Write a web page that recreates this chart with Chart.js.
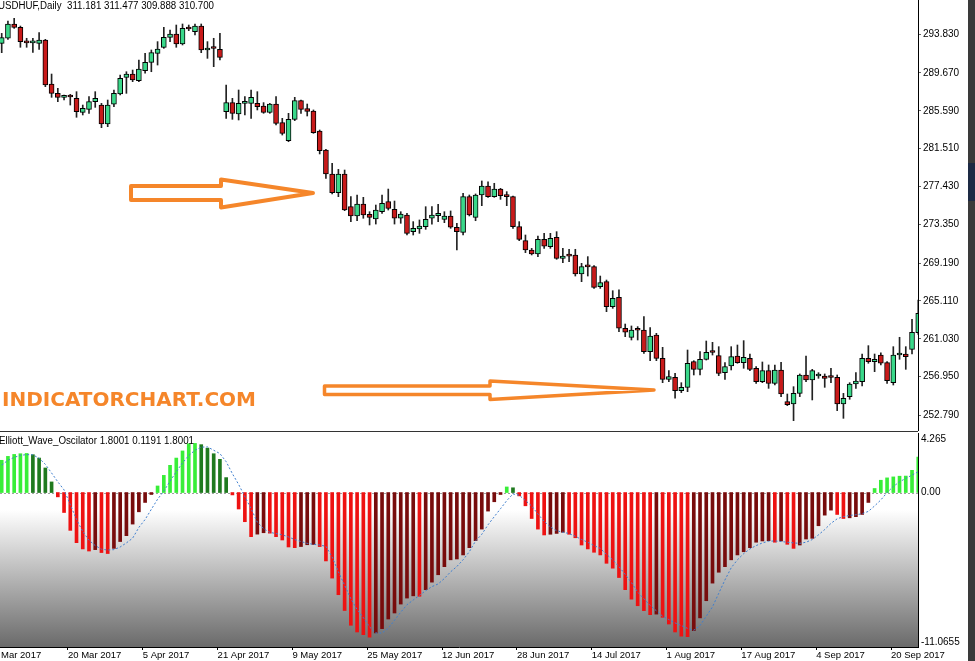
<!DOCTYPE html>
<html>
<head>
<meta charset="utf-8">
<title>USDHUF Daily - Elliott Wave Oscillator</title>
<script src="https://cdn.jsdelivr.net/npm/chart.js@4.4.1/dist/chart.umd.min.js"></script>
<style>
  html, body { margin: 0; padding: 0; background: #fff; }
  #wrap { position: relative; width: 975px; height: 661px; overflow: hidden; background: #fff; }
  #price { position: absolute; left: 0; top: 0; }
  #osc   { position: absolute; left: 0; top: 432px; }
  #sep   { position: absolute; left: 0; top: 431px; width: 918px; height: 1px; background: #333; }
  #edge  { position: absolute; left: 968px; top: 0; width: 7px; height: 661px; background: #3a3a3a; }
  #edge2 { position: absolute; left: 968px; top: 163px; width: 7px; height: 38px; background: #1d2a44; }
</style>
</head>
<body>
<div id="wrap">
  <canvas id="price" width="975" height="431"></canvas>
  <div id="sep"></div>
  <canvas id="osc" width="975" height="229"></canvas>
  <div id="edge"></div>
  <div id="edge2"></div>
</div>
<script>
// ============================================================
// USDHUF Daily + Elliott_Wave_Oscilator (MT4 style)
// ============================================================

// --- price candles (bar index 0..147) ---
const open = [
  292.86,293.40,294.94,294.58,293.04,292.90,292.86,293.22,288.48,287.47,
  287.04,287.11,286.93,285.42,285.75,286.57,286.21,284.17,286.29,287.40,
  289.19,289.55,288.84,289.91,290.81,291.78,292.43,293.50,293.86,292.79,
  294.47,294.11,294.72,292.14,292.32,292.21,285.50,286.47,285.25,286.39,
  286.39,286.39,286.11,285.42,286.32,284.31,282.37,284.67,286.68,285.82,
  285.57,283.41,281.37,278.78,276.77,278.78,275.26,274.26,275.55,274.44,
  273.93,274.72,275.80,274.97,274.01,274.36,272.57,272.86,273.11,274.01,
  274.29,273.90,274.26,273.04,272.50,276.34,274.11,276.52,277.49,276.34,
  277.16,276.45,276.34,273.11,271.60,270.59,270.16,271.74,270.95,271.96,
  269.70,269.95,270.06,268.01,268.80,268.80,266.64,267.18,264.49,265.50,
  262.16,261.19,261.98,261.98,259.64,261.44,258.92,256.66,256.88,255.44,
  255.80,258.57,257.74,258.82,259.57,259.21,257.38,258.10,259.18,258.46,
  258.92,257.85,256.41,257.60,256.23,257.67,254.26,254.01,255.15,257.13,
  256.59,257.02,257.02,256.88,256.88,254.01,254.80,256.16,256.41,258.92,
  258.57,259.28,258.46,256.30,259.28,259.39,259.89,261.69
];
const high = [
  293.93,295.26,295.55,294.72,293.40,293.40,294.01,293.29,289.55,288.01,
  287.29,287.36,287.65,286.21,287.11,287.65,286.39,286.75,287.83,289.45,
  289.80,289.98,291.06,291.78,292.14,293.04,294.58,294.29,294.83,294.94,
  294.83,294.94,294.94,293.04,293.40,293.93,288.37,286.93,287.83,287.11,
  287.83,287.65,286.47,286.39,287.11,284.78,285.32,287.04,286.75,286.32,
  285.68,283.52,281.45,279.93,279.28,279.21,276.34,276.52,276.27,274.72,
  275.44,276.52,277.16,275.87,274.72,274.54,273.65,273.83,275.26,275.26,
  275.51,274.72,274.80,273.47,276.70,276.52,276.63,278.03,277.95,277.78,
  277.24,276.88,276.41,273.65,272.21,270.77,272.10,272.39,272.39,272.57,
  270.77,270.67,270.67,269.16,269.88,268.91,267.79,267.36,266.21,266.29,
  262.62,262.41,262.34,263.41,262.23,261.62,260.11,257.60,257.31,256.30,
  259.82,258.67,259.64,260.79,260.65,260.18,258.46,260.18,260.36,260.83,
  259.39,258.03,258.53,258.21,258.21,258.49,255.08,255.87,257.24,259.18,
  257.74,257.38,257.24,257.85,257.13,255.15,256.30,257.38,259.39,260.29,
  259.39,259.53,258.57,260.18,261.19,260.18,263.13,265.20
];
const low = [
  291.85,293.29,294.47,292.43,292.43,291.89,292.21,288.19,287.04,286.57,
  286.75,286.21,284.89,285.14,285.32,285.96,283.77,283.88,286.04,287.29,
  287.47,288.73,288.73,289.63,289.80,290.52,292.32,293.04,292.43,292.68,
  294.22,293.76,291.85,291.24,290.34,291.06,284.78,284.67,284.60,285.14,
  284.78,285.68,285.32,285.32,284.06,282.98,282.26,284.53,285.32,285.03,
  283.16,280.94,278.31,276.63,276.34,274.83,273.65,273.75,274.01,273.29,
  273.39,274.54,274.90,273.39,273.47,272.21,272.21,272.39,272.82,273.39,
  273.65,273.54,272.93,270.59,272.21,274.26,273.75,275.37,276.27,276.27,
  276.05,275.37,272.93,271.60,270.31,270.06,269.88,270.77,270.77,269.59,
  269.23,269.34,267.79,267.18,267.79,266.46,266.46,263.95,264.31,261.80,
  261.26,260.90,260.90,259.46,258.67,258.67,256.30,256.41,254.62,255.23,
  255.33,257.13,257.13,258.74,259.28,257.06,256.66,257.67,258.39,257.85,
  257.60,256.23,256.30,255.69,256.05,254.80,253.83,252.21,254.80,256.41,
  254.44,256.77,255.80,256.30,253.29,252.46,254.51,255.69,255.94,258.39,
  257.49,258.21,256.23,256.05,258.82,257.74,259.39,261.50
];
const close = [
  293.47,294.94,294.58,293.04,292.90,292.95,293.22,288.37,287.47,287.04,
  287.11,287.08,285.50,285.85,286.57,286.93,284.17,286.21,287.47,289.09,
  289.55,288.91,290.09,290.81,291.85,292.25,293.50,293.86,292.79,294.47,
  294.40,294.72,292.14,292.32,292.30,291.35,286.47,285.32,286.39,286.42,
  287.04,286.03,285.42,286.32,284.24,283.16,284.67,286.68,285.75,285.53,
  283.23,281.30,278.78,276.77,278.78,274.90,274.26,275.55,274.36,274.11,
  274.90,275.62,275.08,274.01,274.47,272.39,272.93,273.18,273.90,274.36,
  274.54,274.26,273.04,272.57,276.34,274.36,276.52,277.49,276.34,277.16,
  276.45,276.34,273.11,271.74,270.59,270.16,271.74,271.02,271.85,269.70,
  269.95,269.93,268.01,268.80,268.78,266.57,267.08,264.49,265.39,262.16,
  261.73,261.98,261.95,259.64,261.33,258.92,256.66,256.95,255.44,255.80,
  258.39,257.74,258.82,259.57,259.55,257.31,258.03,259.10,258.46,259.03,
  257.74,256.41,257.60,256.23,257.67,255.08,253.93,255.15,257.13,256.59,
  257.60,257.04,256.77,256.86,254.01,254.62,256.16,256.48,258.92,258.57,
  258.82,258.39,256.52,259.28,259.39,259.10,261.73,263.77
];

// --- Elliott wave oscillator histogram + signal ---
const ewo = [
  2.31,2.59,2.73,2.78,2.80,2.71,2.47,1.76,0.76,-0.31,
  -1.43,-2.71,-3.59,-4.04,-4.19,-4.09,-4.30,-4.37,-4.00,-3.51,
  -3.09,-2.26,-1.38,-0.71,-0.14,0.47,1.23,1.95,2.47,2.98,
  3.50,3.52,3.43,3.18,2.78,2.38,1.07,-0.17,-1.18,-2.09,
  -3.16,-2.98,-2.88,-2.91,-3.16,-3.40,-3.90,-3.95,-3.87,-3.74,
  -3.72,-3.87,-4.90,-6.13,-7.32,-8.45,-9.51,-9.99,-10.18,-10.37,
  -10.05,-9.75,-9.06,-8.63,-7.99,-7.56,-7.40,-7.43,-6.96,-6.42,
  -5.89,-5.31,-4.82,-4.76,-4.47,-3.95,-3.45,-2.62,-1.33,-0.66,
  -0.14,0.40,0.34,-0.24,-0.95,-1.86,-2.62,-3.04,-2.99,-2.93,
  -2.85,-2.99,-3.24,-3.76,-4.04,-4.28,-4.47,-5.07,-5.42,-6.09,
  -6.96,-7.64,-8.11,-8.46,-8.75,-8.71,-8.94,-9.42,-9.99,-10.29,
  -10.32,-9.89,-8.98,-7.75,-6.49,-5.71,-5.31,-4.82,-4.47,-4.24,
  -3.95,-3.56,-3.47,-3.45,-3.56,-3.47,-3.71,-4.00,-3.76,-3.33,
  -3.28,-2.38,-1.62,-1.26,-1.57,-1.86,-1.81,-1.73,-1.57,-0.71,
  0.29,0.88,1.05,1.12,1.17,1.18,1.59,2.54
];
const signal = [
  1.97,2.31,2.52,2.66,2.72,2.70,2.46,2.02,1.40,0.77,
  0.19,-0.87,-1.93,-2.79,-3.42,-3.80,-4.06,-4.12,-4.09,-3.90,
  -3.61,-3.27,-2.50,-1.93,-1.20,-0.48,0.10,0.82,1.49,2.12,
  2.65,3.03,3.25,3.27,3.03,2.79,2.21,1.35,0.58,-0.29,
  -1.16,-2.12,-2.60,-2.85,-2.94,-3.03,-3.18,-3.37,-3.51,-3.64,
  -3.71,-3.76,-3.85,-4.62,-5.68,-6.64,-7.61,-8.38,-8.96,-9.63,
  -10.06,-10.06,-9.73,-9.15,-8.57,-8.04,-7.70,-7.37,-7.03,-6.74,
  -6.55,-6.16,-5.68,-5.30,-4.82,-4.24,-3.47,-2.99,-2.31,-1.73,
  -1.16,-0.58,-0.10,-0.19,-0.58,-0.96,-1.54,-2.07,-2.46,-2.74,
  -2.84,-2.94,-3.13,-3.37,-3.56,-3.80,-4.00,-4.43,-4.82,-5.30,
  -5.87,-6.45,-7.13,-7.61,-8.09,-8.47,-8.86,-9.10,-9.34,-9.53,
  -9.73,-9.87,-9.53,-8.86,-8.19,-7.22,-6.26,-5.39,-4.82,-4.38,
  -4.04,-3.80,-3.61,-3.49,-3.47,-3.51,-3.56,-3.61,-3.64,-3.56,
  -3.37,-3.03,-2.65,-2.21,-1.88,-1.73,-1.64,-1.59,-1.52,-1.35,
  -0.96,-0.53,0.00,0.43,0.77,1.01,1.25,1.49
];

// --- axes ---
const priceTicks = [293.830, 289.670, 285.590, 281.510, 277.430, 273.350, 269.190, 265.110, 261.030, 256.950, 252.790];
const oscTicks   = [4.265, 0, -11.0655];
const oscTickLabels = ['4.265', '0.00', '-11.0655'];
const dateIdx    = [-1, 11, 23, 35, 47, 59, 71, 83, 95, 107, 119, 131, 143];
const dateLabels = ['2 Mar 2017', '20 Mar 2017', '5 Apr 2017', '21 Apr 2017', '9 May 2017', '25 May 2017',
                    '12 Jun 2017', '28 Jun 2017', '14 Jul 2017', '1 Aug 2017', '17 Aug 2017', '4 Sep 2017', '20 Sep 2017'];

const priceTitle = 'USDHUF,Daily  311.181 311.477 309.888 310.700';
const oscTitle   = 'Elliott_Wave_Oscilator 1.8001 0.1191 1.8001';

// visible bar window (MT4 shift)
const xMin = -0.273, xMax = 146.96;
const AXIS_W = 57;
const FONT = '"Liberation Sans", Arial, sans-serif';
const ORANGE = '#f5862a';

// arrows drawn on the chart (annotations)
const arrow1 = [[131,186],[221,186],[221,179.5],[313,193],[221,207.5],[221,200],[131,200]];
const arrow2 = [[324.5,386],[490,386],[490,381],[654,390],[490,399.5],[490,394.5],[324.5,394.5]];

const bodies = open.map((o, i) => ({ x: i, y: [o, close[i]] }));
const wicks  = low.map((l, i) => ({ x: i, y: [l, high[i]] }));
const bodyColors = open.map((o, i) => close[i] >= o ? '#3ad88a' : '#c81a1a');

const ewoColors = ewo.map((v, i) => {
  const prev = i ? ewo[i - 1] : v - 1;
  if (v >= 0) return v >= prev ? '#38ee38' : '#1f7a1f';
  return v <= prev ? '#ee1212' : '#780c0c';
});

function polygon(ctx, pts) {
  ctx.beginPath();
  pts.forEach((p, i) => i ? ctx.lineTo(p[0], p[1]) : ctx.moveTo(p[0], p[1]));
  ctx.closePath();
  ctx.stroke();
}

const priceDecor = {
  id: 'priceDecor',
  afterDraw(chart) {
    const ctx = chart.ctx;
    ctx.save();
    ctx.fillStyle = '#000';
    ctx.font = '10px ' + FONT;
    ctx.textBaseline = 'middle';
    ctx.fillText(priceTitle, -2, 6, 216);

    ctx.strokeStyle = ORANGE;
    ctx.lineJoin = 'round';
    ctx.lineWidth = 4;
    polygon(ctx, arrow1);
    ctx.lineWidth = 3.5;
    polygon(ctx, arrow2);

    ctx.fillStyle = ORANGE;
    ctx.font = 'bold 20px "DejaVu Sans", sans-serif';
    ctx.textBaseline = 'alphabetic';
    ctx.fillText('INDICATORCHART.COM', 2, 406, 254);
    ctx.restore();
  }
};

const oscDecor = {
  id: 'oscDecor',
  beforeDatasetsDraw(chart) {
    const { ctx, chartArea: a, scales: { y } } = chart;
    const g = ctx.createLinearGradient(0, a.top, 0, a.bottom);
    g.addColorStop(0, '#ffffff');
    g.addColorStop(0.36, '#ffffff');
    g.addColorStop(1, '#6a6a6a');
    ctx.save();
    ctx.fillStyle = g;
    ctx.fillRect(a.left, a.top, a.right - a.left, a.bottom - a.top);
    const y0 = Math.round(y.getPixelForValue(0)) + 0.5;
    ctx.strokeStyle = '#a0a0a0';
    ctx.lineWidth = 1;
    ctx.setLineDash([2, 2]);
    ctx.beginPath(); ctx.moveTo(a.left, y0); ctx.lineTo(a.right, y0); ctx.stroke();
    ctx.restore();
  },
  afterDraw(chart) {
    const { ctx, chartArea: a, scales: { y } } = chart;
    ctx.save();
    ctx.fillStyle = '#000';
    ctx.font = '10px ' + FONT;
    ctx.textBaseline = 'middle';
    ctx.fillText(oscTitle, -1, 9, 195);
    // MT4 keeps the max / min labels inside the sub-window
    oscTicks.forEach((v, i) => {
      const py = Math.min(Math.max(y.getPixelForValue(v), a.top + 6), a.bottom - 5);
      ctx.fillText(oscTickLabels[i], a.right + 3, py);
    });
    ctx.restore();
  }
};

// Gráfico de precio
new Chart(document.getElementById('price'), {
  type: 'bar',
  data: {
    datasets: [
      { data: wicks, backgroundColor: '#222', barThickness: 1, grouped: false, order: 2 },
      { data: bodies, backgroundColor: bodyColors, borderColor: '#000', borderWidth: 1, borderSkipped: false,
        barThickness: 5, minBarLength: 2, grouped: false, order: 1 }
    ]
  },
  options: {
    responsive: false, animation: false, events: [],
    layout: { padding: 0 },
    plugins: { legend: { display: false }, tooltip: { enabled: false } },
    scales: {
      x: { type: 'linear', min: xMin, max: xMax, display: false, offset: false },
      y: {
        position: 'right', min: 251.096, max: 297.525,
        afterBuildTicks: s => { s.ticks = priceTicks.map(v => ({ value: v })); },
        afterFit: s => { s.width = AXIS_W; s.paddingTop = 0; s.paddingBottom = 0; },
        ticks: { callback: v => v.toFixed(3), color: '#000', padding: 2, font: { family: FONT, size: 10 } },
        grid: { drawOnChartArea: false, drawTicks: true, tickLength: 3, color: '#666' },
        border: { display: true, color: '#000' }
      }
    }
  },
  plugins: [priceDecor]
});

// Oscilador
new Chart(document.getElementById('osc'), {
  type: 'bar',
  data: {
    datasets: [
      { type: 'line', data: signal.map((v, i) => ({ x: i, y: v })), borderColor: '#3f7fcf', borderWidth: 1,
        borderDash: [2, 2], pointRadius: 0, fill: false, order: 0 },
      { type: 'bar', data: ewo.map((v, i) => ({ x: i, y: v })), backgroundColor: ewoColors,
        barThickness: 3, grouped: false, order: 1 }
    ]
  },
  options: {
    responsive: false, animation: false, events: [],
    layout: { padding: { top: 1, left: 0, right: 0, bottom: 0 } },
    plugins: { legend: { display: false }, tooltip: { enabled: false } },
    scales: {
      x: {
        type: 'linear', min: xMin, max: xMax, offset: false,
        afterBuildTicks: s => { s.ticks = dateIdx.map(v => ({ value: v - 0.37 })); },
        afterFit: s => { s.height = 14; s.paddingLeft = 0; s.paddingRight = 0; },
        ticks: { autoSkip: false, maxRotation: 0, align: 'start', padding: 0, color: '#000',
                 font: { family: FONT, size: 9.5 }, callback: (v, i) => dateLabels[i] },
        grid: { drawOnChartArea: false, drawTicks: true, tickLength: 3, color: '#000', offset: false },
        border: { display: true, color: '#000' }
      },
      y: {
        position: 'right', min: -11.0655, max: 4.265,
        afterFit: s => { s.width = AXIS_W; s.paddingTop = 0; s.paddingBottom = 0; },
        ticks: { display: false },
        grid: { display: false },
        border: { display: true, color: '#000' }
      }
    }
  },
  plugins: [oscDecor]
});
</script>
</body>
</html>
